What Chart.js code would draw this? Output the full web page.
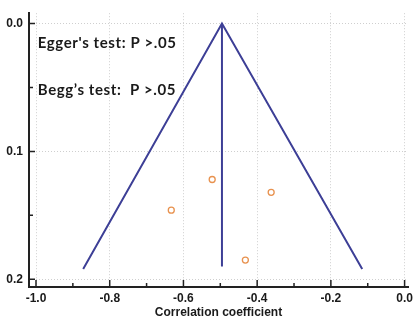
<!DOCTYPE html>
<html>
<head>
<meta charset="utf-8">
<script src="https://cdn.jsdelivr.net/npm/chart.js@4/dist/chart.umd.min.js"></script>
<style>
html,body{margin:0;padding:0;background:#fff;}
#wrap{width:417px;height:322px;}
</style>
</head>
<body>
<div id="wrap"><canvas id="c" width="417" height="322"></canvas></div>
<script>
// ---- data ----
const studyR  = [-0.522, -0.362, -0.633, -0.432];
const studySE = [0.122, 0.132, 0.146, 0.185];
const pooledR = -0.4955;
const funnelR = [-0.872, -0.4955, -0.115];
const funnelSE = [0.192, 0.0, 0.192];
const pooledLineSE = [0.0, 0.19];
const xTicks = [-1.0, -0.8, -0.6, -0.4, -0.2, 0.0];
const xMinor = [-0.9, -0.7, -0.5, -0.3, -0.1];
const yTicks = [0.0, 0.1, 0.2];
const yMinor = [0.05, 0.15];
const notes = ["Egger's test: P >.05", "Begg\u2019s test:  P >.05"];
const noteY = [0.015, 0.0518];
const noteX = -0.995;
const xTitle = "Correlation coefficient";

const navy = '#3d3f96';
const orange = '#e8924f';

const inwardTicks = {
  id: 'inwardTicks',
  afterDraw(chart) {
    const {ctx, chartArea: a, scales: {x, y}} = chart;
    ctx.save();
    ctx.strokeStyle = '#222';
    ctx.lineWidth = 1.5;
    ctx.beginPath();
    xTicks.forEach(v => { const p = x.getPixelForValue(v); ctx.moveTo(p, a.bottom); ctx.lineTo(p, a.bottom - 7); });
    xMinor.forEach(v => { const p = x.getPixelForValue(v); ctx.moveTo(p, a.bottom); ctx.lineTo(p, a.bottom - 4); });
    yTicks.forEach(v => { const p = y.getPixelForValue(v); ctx.moveTo(a.left, p); ctx.lineTo(a.left + 6, p); });
    yMinor.forEach(v => { const p = y.getPixelForValue(v); ctx.moveTo(a.left, p); ctx.lineTo(a.left + 4, p); });
    ctx.stroke();
    // annotation text
    ctx.fillStyle = '#1a1a1a';
    ctx.font = 'bold 15px Lato';
    if ('letterSpacing' in ctx) ctx.letterSpacing = '0.6px';
    ctx.textBaseline = 'middle';
    ctx.textAlign = 'left';
    notes.forEach((t, i) => ctx.fillText(t, x.getPixelForValue(noteX), y.getPixelForValue(noteY[i])));
    ctx.restore();
  }
};

new Chart(document.getElementById('c'), {
  type: 'scatter',
  data: {
    datasets: [
      {
        data: funnelR.map((r, i) => ({x: r, y: funnelSE[i]})),
        showLine: true, borderColor: navy, borderWidth: 2, pointRadius: 0, fill: false
      },
      {
        data: pooledLineSE.map(s => ({x: pooledR, y: s})),
        showLine: true, borderColor: navy, borderWidth: 2, pointRadius: 0, fill: false
      },
      {
        data: studyR.map((r, i) => ({x: r, y: studySE[i]})),
        pointRadius: 3, pointBorderColor: orange, pointBackgroundColor: 'rgba(0,0,0,0)', pointBorderWidth: 1.3
      }
    ]
  },
  options: {
    responsive: false,
    animation: false,
    devicePixelRatio: 1,
    layout: {padding: {top: 8, right: 7, left: 0, bottom: 0}},
    plugins: {legend: {display: false}, tooltip: {enabled: false}},
    scales: {
      x: {
        type: 'linear', min: -1.019, max: 0.0093,
        afterBuildTicks: s => { s.ticks = xTicks.map(v => ({value: v})); },
        afterFit: s => { s.height = 35; },
        ticks: {
          callback: v => v.toFixed(1), color: '#1a1a1a', padding: 4,
          font: {family: 'Liberation Sans', size: 12, weight: 'bold'}, maxRotation: 0
        },
        grid: {color: '#cfcfcf', lineWidth: 1, drawTicks: false},
        border: {display: true, color: '#222', width: 2, dash: [1, 2]},
        title: {
          display: true, text: xTitle, color: '#1a1a1a', padding: {top: 0, bottom: 2},
          font: {family: 'Liberation Sans', size: 12, weight: 'bold'}
        }
      },
      y: {
        type: 'linear', reverse: true, min: -0.0081, max: 0.2061,
        afterBuildTicks: s => { s.ticks = yTicks.map(v => ({value: v})); },
        afterFit: s => { s.width = 29; },
        ticks: {
          callback: v => v.toFixed(1), color: '#1a1a1a', padding: 6,
          font: {family: 'Liberation Sans', size: 12, weight: 'bold'}
        },
        grid: {color: '#cfcfcf', lineWidth: 1, drawTicks: false},
        border: {display: true, color: '#222', width: 2, dash: [1, 2]}
      }
    }
  },
  plugins: [inwardTicks]
});
</script>
</body>
</html>
